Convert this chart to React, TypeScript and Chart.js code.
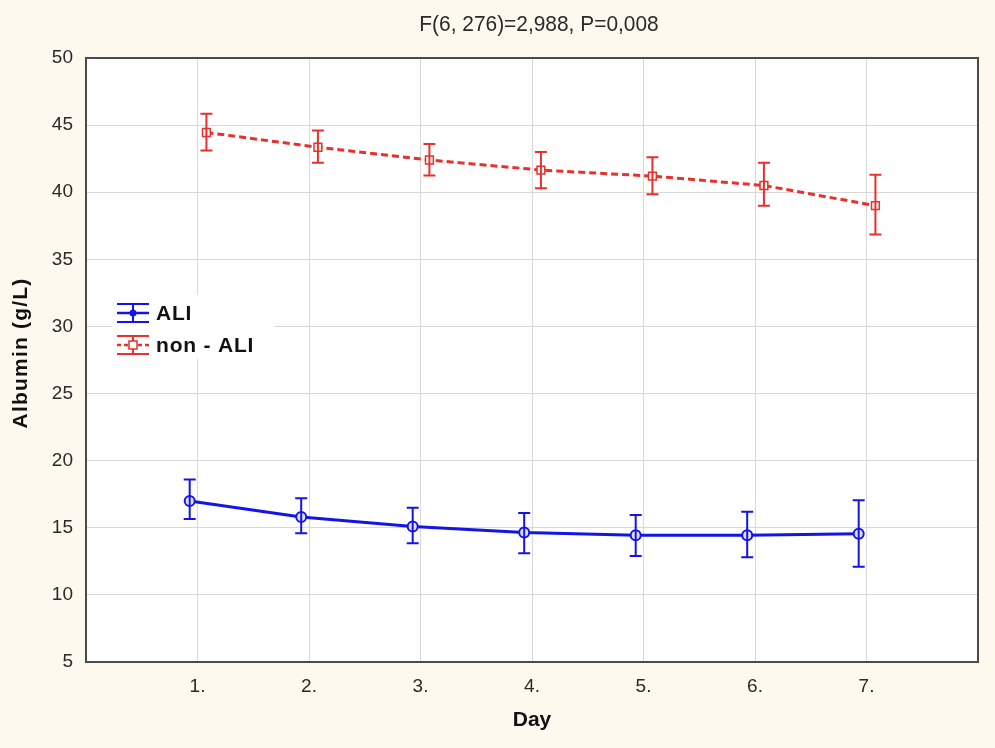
import React, { useEffect, useRef } from "react";
import { Chart, registerables } from "chart.js";

Chart.register(...registerables);

const days = [1, 2, 3, 4, 5, 6, 7];
const dayLabels = ["1.", "2.", "3.", "4.", "5.", "6.", "7."];
const aliMean = [17.0, 15.8, 15.1, 14.65, 14.45, 14.45, 14.55];
const aliUpper = [18.6, 17.2, 16.5, 16.1, 15.95, 16.2, 17.05];
const aliLower = [15.65, 14.6, 13.85, 13.1, 12.9, 12.8, 12.1];
const nonMean = [44.45, 43.35, 42.4, 41.65, 41.2, 40.5, 39.0];
const nonUpper = [45.85, 44.6, 43.6, 43.0, 42.6, 42.2, 41.3];
const nonLower = [43.1, 42.2, 41.25, 40.3, 39.85, 39.0, 36.85];
const yTicks = [5, 10, 15, 20, 25, 30, 35, 40, 45, 50];
const titleText = "F(6, 276)=2,988, P=0,008";
const xTitle = "Day";
const yTitle = "Albumin (g/L)";
const seriesNames = ["ALI", "non - ALI"];

const BLUE = "#1414e6";
const RED = "#e8302c";
const ALI_OFFSET = -0.07;
const NON_OFFSET = 0.08;
const FONT = '"Liberation Sans", Arial, sans-serif';

export default function App() {
  const ref = useRef<HTMLCanvasElement | null>(null);
  useEffect(() => {
    if (!ref.current) return;
    const errorBars = {
      id: "errorBars",
      afterDatasetsDraw(chart: any) {
        const ctx = chart.ctx;
        const x = chart.scales.x;
        const y = chart.scales.y;
        const groups = [
          { off: ALI_OFFSET, up: aliUpper, lo: aliLower, color: BLUE },
          { off: NON_OFFSET, up: nonUpper, lo: nonLower, color: RED },
        ];
        ctx.save();
        groups.forEach((g) => {
          ctx.strokeStyle = g.color;
          ctx.lineWidth = 2;
          days.forEach((d, i) => {
            const px = x.getPixelForValue(d + g.off);
            const pu = y.getPixelForValue(g.up[i]);
            const pl = y.getPixelForValue(g.lo[i]);
            ctx.beginPath();
            ctx.moveTo(px, pu);
            ctx.lineTo(px, pl);
            ctx.moveTo(px - 6, pu);
            ctx.lineTo(px + 6, pu);
            ctx.moveTo(px - 6, pl);
            ctx.lineTo(px + 6, pl);
            ctx.stroke();
          });
        });
        ctx.restore();
      },
    };
    const decor = {
      id: "decor",
      beforeDraw(chart: any) {
        const ctx = chart.ctx;
        const a = chart.chartArea;
        ctx.save();
        ctx.fillStyle = "#fdf9ef";
        ctx.fillRect(0, 0, chart.width, chart.height);
        ctx.fillStyle = "#ffffff";
        ctx.fillRect(a.left, a.top, a.right - a.left, a.bottom - a.top);
        ctx.restore();
      },
      afterDraw(chart: any) {
        const ctx = chart.ctx;
        const a = chart.chartArea;
        ctx.save();
        // border
        ctx.strokeStyle = "#4a4a4a";
        ctx.lineWidth = 2;
        ctx.strokeRect(a.left, a.top, a.right - a.left, a.bottom - a.top);
        // title
        ctx.fillStyle = "#2a2a2a";
        ctx.textAlign = "center";
        ctx.textBaseline = "middle";
        ctx.save();
        ctx.translate(539, 25);
        ctx.scale(0.95, 1);
        ctx.font = "22px " + FONT;
        ctx.fillText(titleText, 0, 0);
        ctx.restore();
        // axis titles
        ctx.fillStyle = "#111";
        ctx.font = "bold 21px " + FONT;
        ctx.fillText(xTitle, (a.left + a.right) / 2, 720);
        ctx.save();
        ctx.translate(21, 353);
        ctx.rotate(-Math.PI / 2);
        (ctx as any).letterSpacing = "1.2px";
        ctx.fillText(yTitle, 0, 0);
        ctx.restore();
        // legend
        const lx = 112, ly = 295;
        ctx.fillStyle = "#ffffff";
        ctx.fillRect(lx, ly, 162, 64);
        const items = [
          { y: 313, color: BLUE, dash: [] as number[], marker: "circle" },
          { y: 345, color: RED, dash: [4, 3], marker: "square" },
        ];
        items.forEach((it, k) => {
          const x0 = 117, x1 = 149, cx = 133;
          ctx.strokeStyle = it.color;
          ctx.lineWidth = 2;
          ctx.setLineDash([]);
          ctx.beginPath();
          ctx.moveTo(x0, it.y - 9);
          ctx.lineTo(x1, it.y - 9);
          ctx.moveTo(x0, it.y + 9);
          ctx.lineTo(x1, it.y + 9);
          ctx.moveTo(cx, it.y - 9);
          ctx.lineTo(cx, it.y + 9);
          ctx.stroke();
          ctx.setLineDash(it.dash);
          ctx.lineWidth = 2.5;
          ctx.beginPath();
          ctx.moveTo(x0, it.y);
          ctx.lineTo(x1, it.y);
          ctx.stroke();
          ctx.setLineDash([]);
          ctx.lineWidth = 1.5;
          ctx.fillStyle = "#ffffff";
          if (it.marker === "circle") {
            ctx.fillStyle = it.color;
            ctx.beginPath();
            ctx.arc(cx, it.y, 3.5, 0, Math.PI * 2);
            ctx.fill();
          } else {
            ctx.fillRect(cx - 4, it.y - 4, 8, 8);
            ctx.strokeRect(cx - 4, it.y - 4, 8, 8);
          }
          ctx.save();
          ctx.fillStyle = "#111";
          ctx.font = "bold 21px " + FONT;
          (ctx as any).letterSpacing = "0.8px";
          ctx.textAlign = "left";
          ctx.fillText(seriesNames[k], 156, it.y + 1);
          ctx.restore();
        });
        ctx.restore();
      },
    };
    const chart = new Chart(ref.current, {
      type: "line",
      data: {
        datasets: [
          {
            label: seriesNames[0],
            data: days.map((d, i) => ({ x: d + ALI_OFFSET, y: aliMean[i] })),
            borderColor: BLUE,
            backgroundColor: "#ffffff",
            borderWidth: 3,
            pointStyle: "circle",
            pointRadius: 5,
            pointBorderWidth: 2,
            pointBorderColor: BLUE,
            pointBackgroundColor: "#e0e0ff",
            tension: 0,
          },
          {
            label: seriesNames[1],
            data: days.map((d, i) => ({ x: d + NON_OFFSET, y: nonMean[i] })),
            borderColor: RED,
            backgroundColor: "#ffffff",
            borderWidth: 3,
            borderDash: [7, 4],
            pointStyle: "rect",
            pointRadius: 5.5,
            pointBorderWidth: 1.5,
            pointBorderColor: RED,
            pointBackgroundColor: "#ffffff",
            tension: 0,
          },
        ],
      },
      options: {
        animation: false,
        responsive: false,
        maintainAspectRatio: false,
        layout: { padding: { top: 58, right: 17, left: 0, bottom: 0 } },
        plugins: {
          legend: { display: false },
          title: { display: false },
          tooltip: { enabled: false },
        },
        scales: {
          x: {
            type: "linear",
            min: 0,
            max: 8,
            afterFit: (s: any) => {
              s.height = 86;
            },
            afterBuildTicks: (s: any) => {
              s.ticks = [0, ...days, 8].map((v) => ({ value: v }));
            },
            ticks: {
              autoSkip: false,
              maxRotation: 0,
              padding: 13,
              color: "#2a2a2a",
              font: { size: 19, family: FONT },
              callback: (v: any) => {
                const i = days.indexOf(Number(v));
                return i >= 0 ? dayLabels[i] : "";
              },
            },
            grid: {
              color: (c: any) =>
                c.tick && (c.tick.value === 0 || c.tick.value === 8) ? "rgba(0,0,0,0)" : "#d8d8d8",
              lineWidth: 1,
              tickLength: 0,
              drawTicks: false,
            },
            border: { display: false },
          },
          y: {
            type: "linear",
            min: 5,
            max: 50,
            afterFit: (s: any) => {
              s.width = 86;
            },
            afterBuildTicks: (s: any) => {
              s.ticks = yTicks.map((v) => ({ value: v }));
            },
            ticks: {
              padding: 13,
              color: "#2a2a2a",
              font: { size: 19, family: FONT },
            },
            grid: {
              color: (c: any) =>
                c.tick && (c.tick.value === 5 || c.tick.value === 50) ? "rgba(0,0,0,0)" : "#d8d8d8",
              lineWidth: 1,
              drawTicks: false,
              tickLength: 0,
            },
            border: { display: false },
          },
        },
      },
      plugins: [decor, errorBars],
    } as any);
    return () => chart.destroy();
  }, []);
  return (
    <div style={{ position: "fixed", left: 0, top: 0, width: 995, height: 748 }}>
      <canvas ref={ref} width={995} height={748} style={{ width: 995, height: 748 }} />
    </div>
  );
}
